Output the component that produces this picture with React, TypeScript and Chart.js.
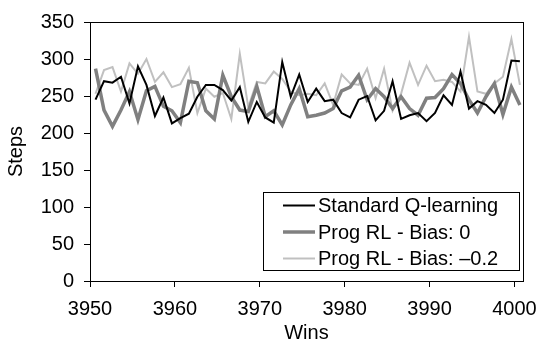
import React, { useEffect, useRef } from "react";
import { Chart, registerables } from "chart.js";

Chart.register(...registerables);

const wins = [
  3950.65, 3951.65, 3952.65, 3953.65, 3954.65, 3955.65, 3956.65, 3957.65, 3958.65, 3959.65,
  3960.65, 3961.65, 3962.65, 3963.65, 3964.65, 3965.65, 3966.65, 3967.65, 3968.65, 3969.65,
  3970.65, 3971.65, 3972.65, 3973.65, 3974.65, 3975.65, 3976.65, 3977.65, 3978.65, 3979.65,
  3980.65, 3981.65, 3982.65, 3983.65, 3984.65, 3985.65, 3986.65, 3987.65, 3988.65, 3989.65,
  3990.65, 3991.65, 3992.65, 3993.65, 3994.65, 3995.65, 3996.65, 3997.65, 3998.65, 3999.65,
  4000.65,
];

const standardQ = [
  245, 270, 268, 276, 240, 290, 265, 223, 248, 213,
  220, 226, 249, 265, 265, 258, 244, 262, 215, 242,
  221, 214, 296, 249, 279, 242, 260, 243, 245, 227,
  221, 245, 250, 217, 230, 270, 219, 224, 227, 216,
  227, 251, 238, 283, 233, 243, 238, 227, 245, 298,
  297,
];

const progBias0 = [
  287, 231, 209, 231, 256, 218, 257, 263, 236, 230,
  214, 270, 268, 230, 219, 278, 249, 231, 229, 263,
  222, 230, 211, 238, 260, 222, 224, 227, 233, 257,
  262, 278, 245, 260, 249, 233, 249, 233, 224, 247,
  248, 260, 279, 267, 245, 227, 249, 267, 225, 262,
  238,
];

const progBiasNeg = [
  253, 285, 289, 256, 294, 280, 300, 269, 282, 262,
  266, 288, 227, 260, 249, 254, 219, 307, 235, 269,
  267, 283, 273, 256, 251, 253, 251, 267, 238, 279,
  267, 265, 287, 247, 287, 230, 253, 295, 265, 291,
  270, 272, 269, 256, 330, 256, 253, 267, 276, 327,
  265,
];

const seriesNames = ["Standard Q-learning", "Prog RL - Bias: 0", "Prog RL - Bias: \u20130.2"];
const xTicks = [3950, 3960, 3970, 3980, 3990, 4000];
const yTicks = [0, 50, 100, 150, 200, 250, 300, 350];

const FONT = "'Liberation Sans', Arial, sans-serif";

const framePlugin = {
  id: "frame",
  afterDatasetsDraw(chart: any) {
    const { ctx, chartArea } = chart;
    ctx.save();
    ctx.strokeStyle = "#000";
    ctx.lineWidth = 1;
    ctx.strokeRect(
      Math.round(chartArea.left) + 0.5,
      Math.round(chartArea.top) + 0.5,
      Math.round(chartArea.right - chartArea.left),
      Math.round(chartArea.bottom - chartArea.top)
    );
    ctx.restore();
  },
};

const legendPlugin = {
  id: "boxLegend",
  afterDraw(chart: any) {
    const { ctx } = chart;
    const x0 = 263.5, y0 = 192.5, w = 256, h = 78;
    ctx.save();
    ctx.fillStyle = "#fff";
    ctx.fillRect(x0, y0, w, h);
    ctx.strokeStyle = "#000";
    ctx.lineWidth = 1;
    ctx.strokeRect(x0, y0, w, h);
    ctx.font = `20px ${FONT}`;
    ctx.textBaseline = "middle";
    ctx.textAlign = "left";
    chart.data.datasets.forEach((ds: any, i: number) => {
      const y = 205.5 + i * 26.5;
      ctx.strokeStyle = ds.borderColor;
      ctx.lineWidth = ds.borderWidth;
      ctx.beginPath();
      ctx.moveTo(283, y);
      ctx.lineTo(315, y);
      ctx.stroke();
      ctx.fillStyle = "#000";
      ctx.fillText(ds.label, 318, y + 1);
    });
    ctx.restore();
  },
};

export default function App() {
  const ref = useRef<HTMLCanvasElement>(null);
  useEffect(() => {
    document.body.style.margin = "0";
    const toPts = (arr: number[]) => arr.map((v, i) => ({ x: wins[i], y: v }));
    const chart = new Chart(ref.current!, {
      type: "line",
      data: {
        datasets: [
          { label: seriesNames[0], data: toPts(standardQ), borderColor: "#000000", borderWidth: 2, pointRadius: 0, tension: 0, fill: false },
          { label: seriesNames[1], data: toPts(progBias0), borderColor: "#808080", borderWidth: 3.5, pointRadius: 0, tension: 0, fill: false },
          { label: seriesNames[2], data: toPts(progBiasNeg), borderColor: "#c0c0c0", borderWidth: 2, pointRadius: 0, tension: 0, fill: false },
        ],
      },
      options: {
        animation: false,
        responsive: true,
        maintainAspectRatio: false,
        layout: { padding: { top: 19, right: 19, left: 0, bottom: 0 } },
        plugins: { legend: { display: false }, tooltip: { enabled: false } },
        scales: {
          x: {
            type: "linear",
            min: 3950,
            max: 4001,
            afterFit: (s: any) => { s.height = 61; },
            afterBuildTicks: (s: any) => { s.ticks = xTicks.map((v) => ({ value: v })); },
            ticks: {
              color: "#000",
              font: { family: FONT, size: 20 },
              padding: 10,
              maxRotation: 0,
              autoSkip: false,
              callback: (v: any) => String(v),
            },
            grid: { drawOnChartArea: false, drawTicks: true, tickLength: 6, color: "#000" },
            border: { display: true, color: "#000" },
            title: { display: true, text: "Wins", color: "#000", font: { family: FONT, size: 20, lineHeight: 0.9 }, padding: { top: 0, bottom: 0 } },
          },
          y: {
            type: "linear",
            min: 0,
            max: 350,
            afterFit: (s: any) => { s.width = 90; },
            afterBuildTicks: (s: any) => { s.ticks = yTicks.map((v) => ({ value: v })); },
            ticks: { color: "#000", font: { family: FONT, size: 20 }, padding: 10, callback: (v: any) => String(v) },
            grid: { drawOnChartArea: false, drawTicks: true, tickLength: 6, color: "#000" },
            border: { display: true, color: "#000" },
            title: { display: true, text: "Steps", color: "#000", font: { family: FONT, size: 20 }, padding: { top: 4, bottom: 4 } },
          },
        },
      },
      plugins: [framePlugin, legendPlugin],
    });
    return () => chart.destroy();
  }, []);
  return (
    <div style={{ width: 547, height: 342, position: "relative" }}>
      <canvas ref={ref} />
    </div>
  );
}
